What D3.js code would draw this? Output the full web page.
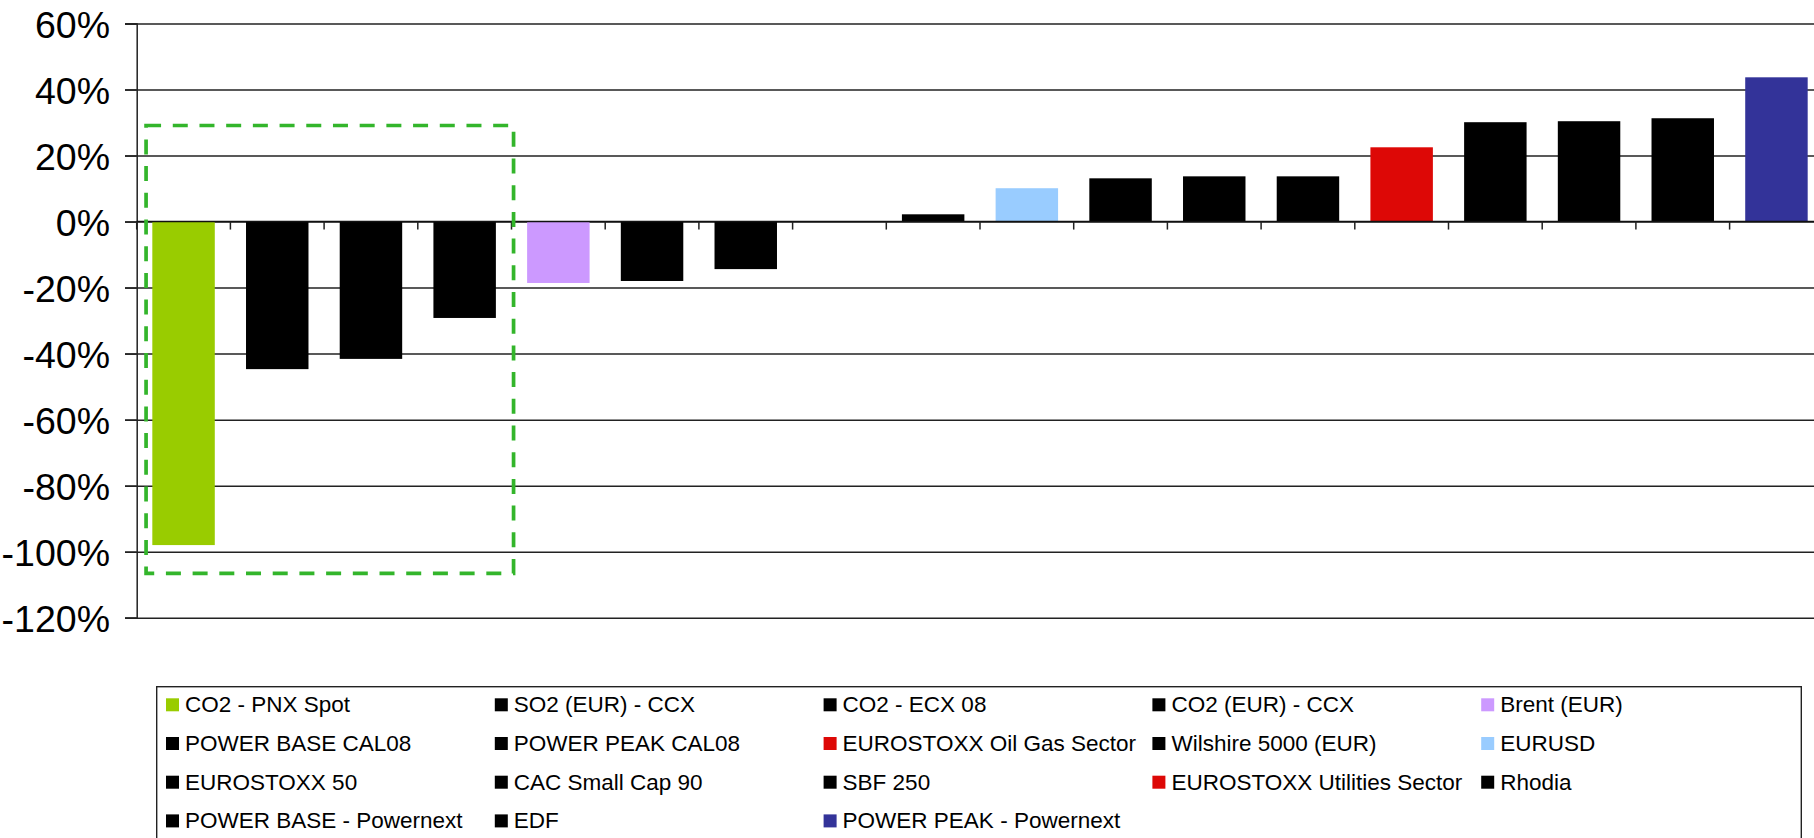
<!DOCTYPE html>
<html>
<head>
<meta charset="utf-8">
<script src="https://cdn.jsdelivr.net/npm/d3@7"></script>
<style>
  html, body { margin: 0; padding: 0; background: #ffffff; overflow: hidden; }
  svg { display: block; font-family: "Liberation Sans", Arial, Helvetica, sans-serif; }
</style>
</head>
<body>
<svg id="chart" width="1814" height="838"></svg>
<script>
// ---- data ----
const categories = [
  "CO2 - PNX Spot", "SO2 (EUR) - CCX", "CO2 - ECX 08", "CO2 (EUR) - CCX", "Brent (EUR)",
  "POWER BASE CAL08", "POWER PEAK CAL08", "EUROSTOXX Oil Gas Sector", "Wilshire 5000 (EUR)", "EURUSD",
  "EUROSTOXX 50", "CAC Small Cap 90", "SBF 250", "EUROSTOXX Utilities Sector", "Rhodia",
  "POWER BASE - Powernext", "EDF", "POWER PEAK - Powernext"
];
const values = [
  -98.0, -44.7, -41.6, -29.2, -18.6,
  -18.0, -14.4, 0.0, 2.2, 10.1,
  13.1, 13.7, 13.7, 22.5, 30.1,
  30.4, 31.3, 43.7
];
const yTickValues = [60, 40, 20, 0, -20, -40, -60, -80, -100, -120];
const yTickLabels = ["60%", "40%", "20%", "0%", "-20%", "-40%", "-60%", "-80%", "-100%", "-120%"];
// highlighted group (first four categories), value range of the dashed frame
const highlightCategories = ["CO2 - PNX Spot", "CO2 (EUR) - CCX"];
const highlightRange = [29.1, -106.6];

// ---- styles ----
const seriesColors = [
  "#99cc00", "#000000", "#000000", "#000000", "#cc99ff",
  "#000000", "#000000", "#dd0806", "#000000", "#99ccff",
  "#000000", "#000000", "#000000", "#dd0806", "#000000",
  "#000000", "#000000", "#333399"
];

const svg = d3.select("#chart");
const plot = { left: 136.7, right: 1823.3, top: 23.5, bottom: 617.7 };

const y = d3.scaleLinear().domain([-120, 60]).range([plot.bottom, plot.top]);
const x = d3.scaleBand().domain(categories)
  .range([plot.left, plot.right])
  .paddingInner(1 / 3).paddingOuter(1 / 6);
const step = x.step();
const gapHalf = (step - x.bandwidth()) / 2;
const boundary = i => (i < categories.length ? x(categories[i]) - gapHalf : x(categories[i - 1]) + x.bandwidth() + gapHalf);

// gridlines
const grid = svg.append("g")
  .attr("transform", `translate(${plot.left - 11.7},0)`)
  .call(d3.axisRight(y).tickValues(yTickValues).tickSize(plot.right - plot.left + 11.7).tickFormat(""));
grid.select(".domain").remove();
grid.selectAll(".tick line").attr("stroke", "#222").attr("stroke-width", 1.5);

// y axis
const yAxis = svg.append("g")
  .attr("transform", `translate(${plot.left},0)`)
  .call(d3.axisLeft(y).tickValues(yTickValues).tickSize(11.7).tickPadding(15)
    .tickFormat((d, i) => yTickLabels[i]));
yAxis.select(".domain").attr("stroke", "#222").attr("stroke-width", 1.5);
yAxis.selectAll(".tick line").attr("stroke", "#222").attr("stroke-width", 1.5);
yAxis.selectAll(".tick text")
  .attr("fill", "#000").attr("font-size", 37.5)
  .attr("font-family", "'Liberation Sans', Arial, sans-serif")
  .attr("dy", "0.36em");

// bars
svg.append("g").selectAll("rect").data(values).join("rect")
  .attr("x", (d, i) => x(categories[i]))
  .attr("width", x.bandwidth())
  .attr("y", d => y(Math.max(0, d)))
  .attr("height", d => Math.abs(y(d) - y(0)))
  .attr("fill", (d, i) => seriesColors[i]);

// x axis line + category boundary ticks
svg.append("line")
  .attr("x1", plot.left).attr("x2", plot.right)
  .attr("y1", y(0)).attr("y2", y(0))
  .attr("stroke", "#111").attr("stroke-width", 1.5);
svg.append("g").selectAll("line").data(d3.range(categories.length + 1)).join("line")
  .attr("x1", i => boundary(i)).attr("x2", i => boundary(i))
  .attr("y1", y(0)).attr("y2", y(0) + 8)
  .attr("stroke", "#222").attr("stroke-width", 1.5);

// dashed highlight frame
const hx0 = boundary(categories.indexOf(highlightCategories[0])) + step * 0.1;
const hx1 = boundary(categories.indexOf(highlightCategories[1]) + 1) + step * 0.022;
svg.append("rect")
  .attr("x", hx0).attr("y", y(highlightRange[0]))
  .attr("width", hx1 - hx0)
  .attr("height", y(highlightRange[1]) - y(highlightRange[0]))
  .attr("fill", "none")
  .attr("stroke", "#33b52b").attr("stroke-width", 3.7)
  .attr("stroke-dasharray", "15 11.7");

// legend
const legend = { left: 156.7, top: 686.7, right: 1801.3, bottom: 870, col0: 166, colStep: 328.8, row0: 698.3, rowStep: 38.7, cols: 5 };
svg.append("rect")
  .attr("x", legend.left).attr("y", legend.top)
  .attr("width", legend.right - legend.left).attr("height", legend.bottom - legend.top)
  .attr("fill", "#fff").attr("stroke", "#222").attr("stroke-width", 1.4);
const items = svg.append("g").selectAll("g").data(categories).join("g")
  .attr("transform", (d, i) => `translate(${legend.col0 + (i % legend.cols) * legend.colStep},${legend.row0 + Math.floor(i / legend.cols) * legend.rowStep})`);
items.append("rect").attr("width", 13).attr("height", 13).attr("fill", (d, i) => seriesColors[i]);
items.append("text")
  .attr("x", 19).attr("y", 14)
  .attr("font-size", 22.5).attr("fill", "#000")
  .text(d => d);
</script>
</body>
</html>
